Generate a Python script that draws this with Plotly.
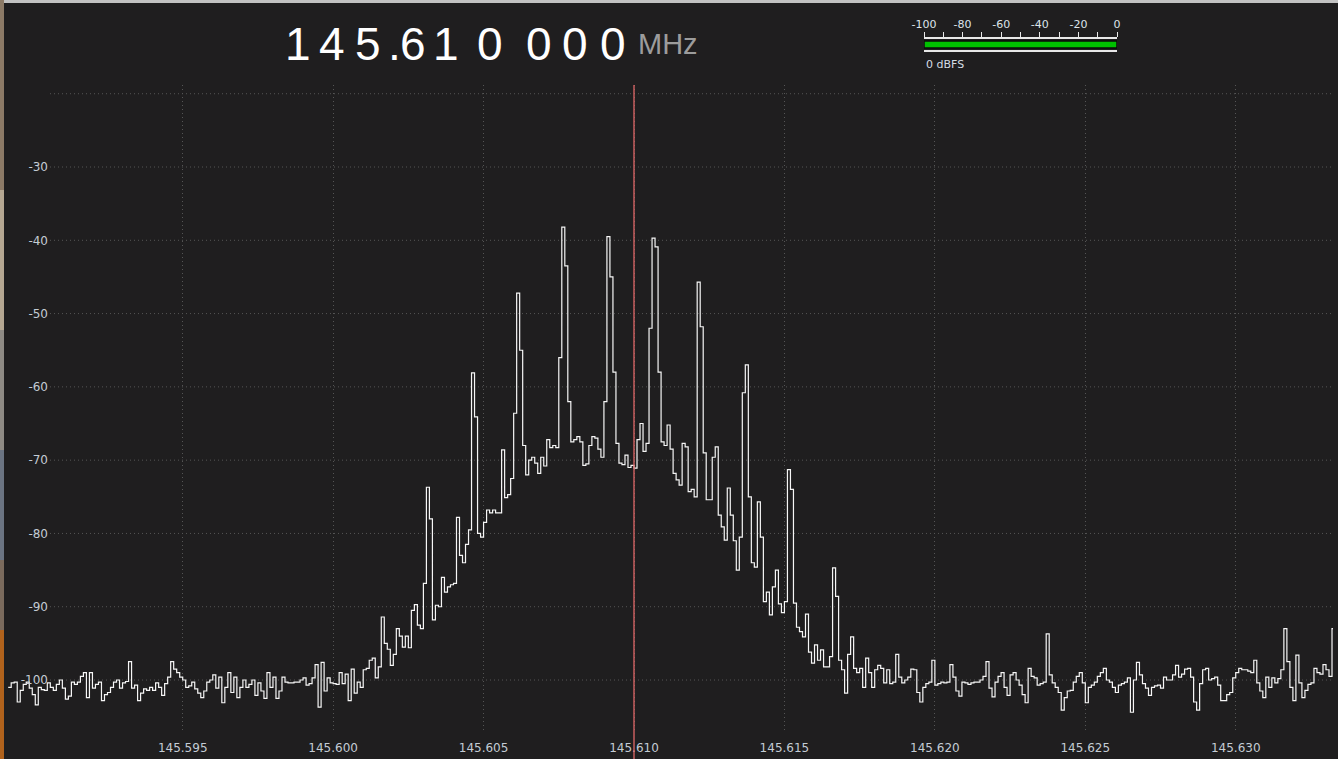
import plotly.graph_objects as go

# spectrum: first bin frequency, bin width, levels in dB
CENTER_MHZ = 145.610
START_MHZ = 145.5892
BIN_MHZ = 0.0001
LEVELS_DB = [
    -101.0, -100.4, -100.3, -103.0, -101.4, -100.6, -100.3, -101.1, -102.0, -103.4,
    -101.0, -101.3, -101.4, -100.4, -101.0, -101.4, -100.6, -100.0, -101.1, -102.6,
    -102.2, -100.3, -100.6, -100.3, -99.5, -99.0, -102.4, -99.0, -101.1, -100.6,
    -100.3, -102.8, -102.0, -101.7, -101.0, -100.3, -100.0, -101.1, -100.4, -100.2,
    -97.5, -101.1, -100.7, -102.8, -101.8, -101.2, -101.4, -101.0, -101.4, -100.4,
    -101.0, -102.1, -100.5, -99.6, -97.5, -98.5, -99.0, -99.6, -100.0, -101.0,
    -100.8, -100.3, -101.2, -101.8, -102.4, -101.5, -100.3, -100.0, -99.3, -101.1,
    -99.6, -103.1, -101.0, -99.0, -101.7, -99.6, -102.4, -101.0, -100.0, -101.0,
    -100.6, -100.0, -102.1, -100.4, -101.5, -102.5, -99.0, -101.0, -99.6, -102.5,
    -101.5, -99.6, -100.3, -100.4, -100.4, -100.3, -100.3, -100.0, -99.7, -100.7,
    -100.5, -99.7, -97.9, -103.7, -97.6, -101.5, -99.7, -100.4, -100.5, -100.6,
    -99.0, -100.5, -99.2, -102.8, -98.5, -101.8, -100.3, -101.0, -98.6, -98.4,
    -97.3, -97.0, -99.7, -98.2, -91.4, -95.0, -95.8, -98.0, -96.5, -93.0,
    -94.0, -95.5, -94.0, -95.6, -90.5, -89.7, -92.5, -93.0, -86.8, -73.7,
    -78.0, -91.8, -89.8, -90.0, -86.0, -88.0, -87.3, -87.0, -86.8, -77.8,
    -83.0, -84.0, -81.5, -79.5, -58.1, -64.1, -80.0, -80.5, -78.5, -76.8,
    -77.2, -76.8, -77.2, -77.2, -68.6, -75.1, -74.7, -72.5, -63.6, -47.2,
    -55.0, -68.0, -72.0, -70.0, -69.6, -70.4, -71.8, -69.6, -70.8, -67.2,
    -68.3, -68.0, -68.3, -56.0, -38.2, -43.5, -62.0, -67.5, -67.2, -66.8,
    -67.5, -70.7, -70.5, -68.0, -66.8, -67.0, -68.5, -69.6, -62.0, -39.5,
    -45.0, -58.0, -67.7, -70.4, -70.6, -69.3, -71.0, -70.7, -71.1, -67.2,
    -65.0, -68.8, -67.7, -52.0, -39.7, -40.9, -58.0, -67.5, -68.0, -65.2,
    -68.5, -71.8, -72.7, -73.4, -67.7, -68.2, -74.3, -74.0, -75.0, -45.7,
    -51.8, -69.0, -75.4, -75.4, -69.6, -68.2, -77.5, -79.1, -80.9, -73.8,
    -77.5, -81.0, -85.0, -80.5, -60.8, -57.0, -75.0, -84.0, -84.6, -75.7,
    -80.5, -89.3, -88.0, -91.1, -87.3, -85.0, -89.6, -90.8, -89.3, -71.3,
    -74.0, -89.5, -92.8, -93.4, -94.1, -91.0, -96.2, -97.7, -95.2, -97.3,
    -95.9, -98.2, -98.2, -96.8, -84.7, -88.6, -97.3, -98.6, -101.8, -96.5,
    -94.1, -98.4, -99.0, -98.4, -101.0, -97.0, -99.0, -101.0, -98.6, -98.0,
    -98.4, -100.4, -98.6, -100.5, -100.3, -96.5, -99.6, -100.4, -100.0, -99.6,
    -98.5, -98.6, -101.7, -103.0, -101.0, -100.5, -100.3, -97.3, -100.7, -100.5,
    -100.3, -100.4, -100.3, -97.9, -99.6, -101.5, -102.2, -100.3, -100.4, -100.6,
    -100.4, -100.3, -100.3, -100.0, -99.5, -97.5, -101.1, -102.3, -100.3, -99.5,
    -99.0, -101.0, -102.1, -99.3, -99.0, -100.0, -100.7, -102.0, -103.1, -98.4,
    -99.5, -99.7, -100.7, -100.5, -100.3, -93.7, -99.3, -100.4, -101.0, -101.7,
    -104.1, -102.4, -101.5, -101.4, -100.3, -99.5, -99.0, -100.4, -103.1, -101.0,
    -100.7, -100.3, -99.5, -99.0, -98.4, -100.0, -100.3, -101.0, -101.7, -100.7,
    -100.5, -100.3, -99.7, -104.4, -100.0, -97.6, -99.3, -100.5, -101.1, -102.1,
    -101.0, -100.8, -100.7, -101.1, -99.6, -100.0, -100.0, -99.3, -98.0, -99.6,
    -99.2, -98.5, -98.4, -99.6, -103.0, -104.1, -100.5, -98.6, -98.4, -100.0,
    -99.8, -99.6, -100.7, -102.8, -102.8, -102.0, -101.7, -99.7, -99.0, -98.4,
    -98.6, -98.6, -98.8, -99.0, -97.3, -100.4, -101.5, -102.4, -99.6, -101.0,
    -99.7, -100.4, -99.8, -98.6, -93.0, -97.5, -101.0, -102.8, -96.6, -100.4,
    -102.4, -101.4, -100.6, -100.4, -98.4, -99.0, -99.2, -97.9, -98.6, -99.5,
    -93.0, -96.5,
]

X_TICKS = [145.595, 145.600, 145.605, 145.610, 145.615, 145.620, 145.625, 145.630]
Y_TICKS = [-30, -40, -50, -60, -70, -80, -90, -100]
GRID_DB = [-20, -30, -40, -50, -60, -70, -80, -90, -100]

# signal meter
METER_TICKS = [-100, -80, -60, -40, -20, 0]
LEVEL_DBFS = 0

BG = "#1f1e1f"
GRID = "#555555"
TICK = "#c4ccd4"

W, H = 1338, 759
L, R, T, B = 7, 5, 5, 29
PW, PH = W - L - R, H - T - B


def px(x):
    return (x - L) / PW


def py(y):
    return (H - B - y) / PH


freqs = [START_MHZ + i * BIN_MHZ for i in range(len(LEVELS_DB))]
meter_min, meter_max = METER_TICKS[0], METER_TICKS[-1]

fig = go.Figure()
fig.add_trace(go.Scatter(
    x=freqs, y=LEVELS_DB, mode="lines",
    line=dict(color="#f6f6f6", width=1.2, shape="hv"),
))
fig.add_trace(go.Bar(
    x=[LEVEL_DBFS - meter_min], base=[meter_min], y=[0], orientation="h", width=0.64,
    marker=dict(color="#00c000", line=dict(color="#0a0a0a", width=1.5)),
    xaxis="x2", yaxis="y2",
))

# horizontal dotted grid starts after the level labels
for v in GRID_DB:
    fig.add_shape(type="line", xref="x domain", yref="y", x0=px(50), x1=1, y0=v, y1=v,
                  line=dict(color=GRID, width=1, dash="1px,3px"), layer="below")

# tuning marker
fig.add_shape(type="line", xref="x", yref="y domain", x0=CENTER_MHZ, x1=CENTER_MHZ,
              y0=-(B / (H - B - 85)), y1=1, line=dict(color="#e06868", width=1.3))

# window edges
fig.add_shape(type="rect", xref="paper", yref="paper", x0=px(0), x1=px(W), y0=py(3), y1=py(0),
              line_width=0, fillcolor="#c2c2c2")
for y0, y1, col in [(0, 190, "#8c7a66"), (190, 330, "#b5a792"), (330, 450, "#8e8a84"),
                    (450, 560, "#6b7482"), (560, 630, "#7a6a5c"), (630, 759, "#b0621c")]:
    fig.add_shape(type="rect", xref="paper", yref="paper", x0=px(0), x1=px(4), y0=py(y1), y1=py(y0),
                  line_width=0, fillcolor=col)

# frequency readout, one glyph per cell like the radio display
freq_text = f"{CENTER_MHZ:.6f}"
chars = list(freq_text)
char_x = [298, 332, 368.5, 394, 413, 446, 489.5, 539, 575, 612.5]
for ch, cx in zip(chars, char_x):
    fig.add_annotation(text=ch, x=px(cx), y=py(44), xref="paper", yref="paper",
                       xanchor="center", yanchor="middle", showarrow=False,
                       font=dict(family="Liberation Sans", size=46, color="#ffffff"))
fig.add_annotation(text="MHz", x=px(668), y=py(44), xref="paper", yref="paper",
                   xanchor="center", yanchor="middle", showarrow=False,
                   font=dict(family="Liberation Sans", size=29, color="#9c9c9c"))
fig.add_annotation(text=f"{LEVEL_DBFS} dBFS", x=px(924), y=py(64), xref="paper", yref="paper",
                   xanchor="left", yanchor="middle", showarrow=False,
                   font=dict(family="DejaVu Sans", size=11, color="#d4dce4"))

fig.update_layout(
    width=W, height=H, margin=dict(l=L, r=R, t=T, b=B, autoexpand=False),
    paper_bgcolor=BG, plot_bgcolor=BG, showlegend=False,
    font=dict(family="DejaVu Sans", size=12, color=TICK),
    xaxis=dict(
        domain=[0, 1], anchor="y", automargin=False,
        range=[145.58916, 145.633233],
        tickvals=X_TICKS, ticktext=[f"{v:.3f}" for v in X_TICKS],
        ticks="", ticklabelstandoff=9,
        showgrid=True, gridcolor=GRID, gridwidth=1, griddash="1px,3px",
        zeroline=False, showline=False,
    ),
    yaxis=dict(
        domain=[0, py(85)], anchor="free", position=px(48), automargin=False,
        range=[-106.82, -18.81],
        tickvals=Y_TICKS, ticktext=[str(v) for v in Y_TICKS], ticks="",
        showgrid=False, zeroline=False, showline=False,
    ),
    xaxis2=dict(
        domain=[px(924), px(1117)], anchor="y2", side="top", automargin=False,
        range=[meter_min, meter_max],
        tickvals=METER_TICKS, ticktext=[str(v) for v in METER_TICKS],
        ticks="outside", ticklen=5, tickwidth=1, tickcolor="#e8e8e8",
        minor=dict(dtick=10, tick0=meter_min, ticks="outside", ticklen=5, tickcolor="#e8e8e8"),
        showline=True, mirror=True, linecolor="#e8e8e8", linewidth=1.5,
        showgrid=False, zeroline=False, ticklabelstandoff=0,
        tickfont=dict(size=11, color="#dde4ea"),
    ),
    yaxis2=dict(domain=[py(50), py(39)], anchor="x2", range=[-0.5, 0.5], visible=False,
                automargin=False),
)

fig.write_html("out.html", config={"displayModeBar": False},
               post_script="document.body.style.margin='0';")
